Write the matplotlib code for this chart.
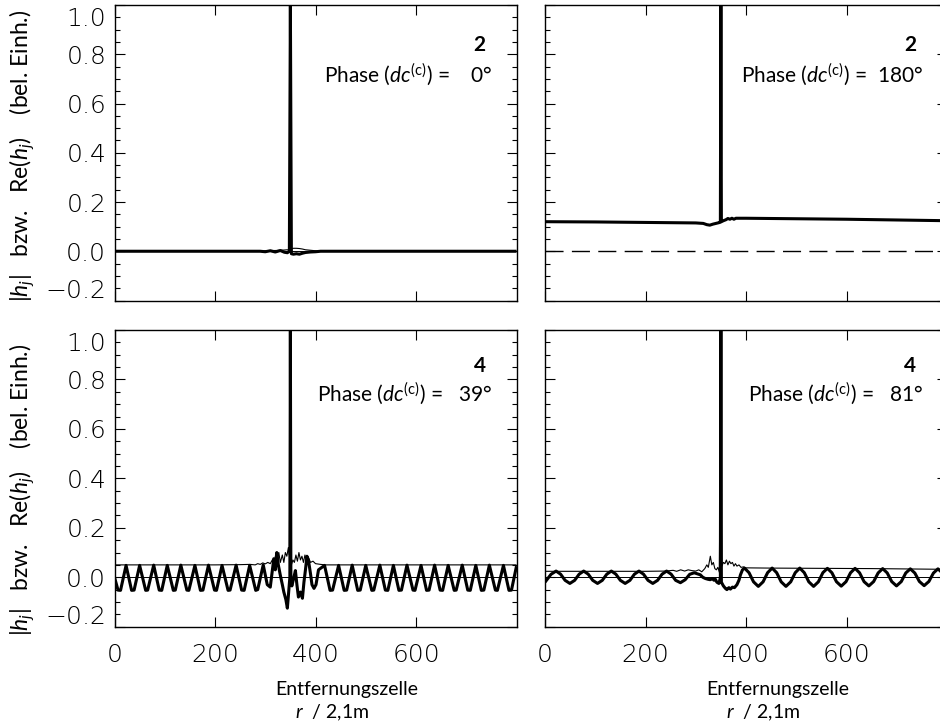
import matplotlib
matplotlib.use('Agg')
import matplotlib.pyplot as plt
from matplotlib.ticker import MultipleLocator
from matplotlib.transforms import ScaledTranslation

plt.rcParams['font.family'] = ['Lato', 'DejaVu Sans']
plt.rcParams['mathtext.fontset'] = 'custom'
plt.rcParams['mathtext.rm'] = 'Lato'
plt.rcParams['mathtext.it'] = 'Lato:italic'
plt.rcParams['mathtext.bf'] = 'Lato:bold'
plt.rcParams['lines.solid_capstyle'] = 'butt'

# Daten
# oben links: 2, Phase 0 Grad
tl_x = [0, 290, 300, 310, 320, 330, 338, 344, 348, 350, 352, 356, 362, 368, 374, 380, 390, 400, 410, 800]
tl_re = [0, 0, -0.002, 0.002, -0.003, 0.003, -0.004, -0.006, 0, 1.0, -0.01, -0.012, -0.01,
         -0.012, -0.008, -0.005, -0.003, -0.002, 0, 0]
tl_abs = [0, 0, 0.002, 0.003, 0.003, 0.004, 0.005, 0.006, 0.004, 1.0, 0.01, 0.012, 0.012,
          0.011, 0.009, 0.006, 0.004, 0.002, 0, 0]

# oben rechts: 2, Phase 180 Grad
tr_x = [0, 100, 200, 300, 315, 322, 328, 334, 340, 346, 349, 350, 351, 355, 360, 364, 368,
        372, 376, 380, 400, 500, 600, 700, 800]
tr_re = [0.120, 0.119, 0.117, 0.115, 0.113, 0.108, 0.106, 0.110, 0.113, 0.116, 0.118, 1.0,
         0.12, 0.124, 0.128, 0.133, 0.130, 0.134, 0.130, 0.134, 0.134, 0.132, 0.130, 0.127, 0.124]

# unten links: 4, Phase 39 Grad
bl_x = [0, 7, 12, 23, 34, 39, 50, 62, 66, 78, 89, 94, 105, 117, 121, 132, 144, 148, 160, 171,
        176, 187, 199, 203, 214, 226, 230, 242, 253, 258, 269, 281, 285, 296,
        304, 310, 317, 320, 323, 326, 330, 334, 337, 341, 344, 347, 349, 350, 351, 353, 357,
        360, 363, 366, 370, 374, 377, 380, 383, 386, 390, 393, 397, 401, 406,
        418, 429, 434, 446, 457, 462, 473, 484, 489, 500, 512, 516, 528, 539, 544, 555, 566,
        571, 582, 594, 598, 610, 621, 626, 637, 648, 653, 664, 676, 680, 692, 703, 708, 719,
        730, 735, 746, 758, 762, 774, 785, 790, 800]
bl_re = [0.0, -0.052, -0.053, 0.048, -0.053, -0.052, 0.048, -0.053, -0.052, 0.049, -0.052,
         -0.053, 0.048, -0.053, -0.052, 0.049, -0.052, -0.053, 0.048, -0.053, -0.052, 0.049,
         -0.052, -0.053, 0.048, -0.053, -0.052, 0.049, -0.052, -0.053, 0.048, -0.053, -0.05, 0.05,
         -0.03, -0.04, 0.075, 0.03, 0.10, 0.05, 0.008, -0.03, -0.06, -0.09, -0.125, -0.05, 0.0,
         1.0, -0.02, -0.035, 0.0, 0.027, -0.03, -0.08, -0.06, -0.085, -0.02, 0.03, 0.085,
         0.068, 0.015, -0.03, -0.045, -0.03, 0.03,
         0.048, -0.053, -0.052, 0.048, -0.053, -0.052, 0.049, -0.053, -0.052, 0.048, -0.053,
         -0.052, 0.049, -0.052, -0.053, 0.048, -0.053, -0.052, 0.049, -0.052, -0.053, 0.048,
         -0.053, -0.052, 0.049, -0.052, -0.053, 0.048, -0.053, -0.052, 0.049, -0.052, -0.053,
         0.048, -0.053, -0.052, 0.049, -0.052, -0.053, 0.048, -0.053, -0.052, 0.045]
bl_abs_x = [0, 100, 200, 250, 270, 280, 285, 290, 295, 300, 305, 310, 314, 318, 321, 324, 327,
            330, 334, 337, 340, 343, 346, 348, 350, 352, 355, 358, 361, 364, 367, 370, 373,
            376, 379, 382, 386, 390, 395, 400, 410, 420, 450, 800]
bl_abs = [0.05, 0.05, 0.05, 0.051, 0.052, 0.05, 0.055, 0.052, 0.058, 0.054, 0.06, 0.055, 0.07,
          0.06, 0.095, 0.07, 0.1, 0.06, 0.09, 0.06, 0.1, 0.085, 0.12, 0.09, 1.0, 0.05, 0.07,
          0.06, 0.09, 0.065, 0.1, 0.07, 0.085, 0.06, 0.09, 0.065, 0.08, 0.06, 0.065, 0.055,
          0.052, 0.05, 0.05, 0.05]

# unten rechts: 4, Phase 81 Grad
br_x = [0, 12, 22, 31, 40, 49.5, 59, 68, 77, 86, 95, 104.5, 114, 123, 132, 141, 150, 159.5,
        169, 178, 187, 196, 205, 214.5, 224, 233, 242, 251, 260, 269.5, 279, 288, 297,
        303, 309, 314, 319, 324, 329, 333, 336, 339, 342, 346, 348, 349, 350, 351, 355, 359,
        362, 366, 369, 373, 377, 382, 386, 389, 393, 397,
        406, 415, 424.5, 434, 443, 452, 461, 470, 479.5, 489, 498, 507, 516, 525, 534.5, 544,
        553, 562, 571, 580, 589.5, 599, 608, 617, 626, 635, 644.5, 654, 663, 672, 681, 690,
        699.5, 709, 718, 727, 736, 745, 754.5, 764, 773, 782, 791, 800]
br_re = [-0.02, 0.012, 0.025, 0.0125, -0.0125, -0.025, -0.0125, 0.0125, 0.025, 0.0125, -0.0125,
         -0.025, -0.0125, 0.0125, 0.025, 0.0125, -0.0125, -0.025, -0.0125, 0.0125, 0.025, 0.0125,
         -0.0125, -0.025, -0.0125, 0.0125, 0.025, 0.0125, -0.0125, -0.022, -0.01, 0.012, 0.018,
         0.014, 0.01, 0.0, -0.005, -0.008, -0.01, -0.005, -0.012, -0.008, -0.02, -0.025, -0.01,
         0.0, 1.0, -0.02, -0.035, -0.045, -0.05, -0.042, -0.048, -0.04, -0.042, -0.03, -0.012,
         0.01, 0.03, 0.037,
         0.0185, -0.0185, -0.037, -0.0185, 0.0185, 0.037, 0.0185, -0.0185, -0.037, -0.0185,
         0.0185, 0.037, 0.0185, -0.0185, -0.037, -0.0185, 0.0185, 0.036, 0.018, -0.018, -0.036,
         -0.018, 0.018, 0.036, 0.018, -0.018, -0.035, -0.0175, 0.0175, 0.035, 0.0175, -0.0175,
         -0.035, -0.0175, 0.0175, 0.034, 0.017, -0.017, -0.034, -0.017, 0.017, 0.034, 0.017,
         -0.017]
br_abs_x = [0, 100, 200, 240, 255, 262, 270, 278, 285, 292, 300, 306, 312, 318, 322, 325, 329,
            332, 335, 338, 341, 344, 347, 350, 352, 355, 358, 361, 364, 367, 370, 373, 376,
            379, 382, 386, 390, 395, 400, 450, 550, 650, 750, 800]
br_abs = [0.024, 0.024, 0.024, 0.025, 0.028, 0.024, 0.03, 0.025, 0.03, 0.027, 0.025, 0.03,
          0.022, 0.035, 0.05, 0.04, 0.085, 0.05, 0.06, 0.035, 0.03, 0.04, 0.02, 1.0, 0.045,
          0.06, 0.055, 0.07, 0.05, 0.065, 0.055, 0.06, 0.045, 0.055, 0.045, 0.05, 0.04, 0.042,
          0.038, 0.037, 0.036, 0.035, 0.033, 0.032]

ordnung = ['2', '2', '4', '4']
phasen = ['   0°', ' 180°', '  39°', '  81°']

fig = plt.figure(figsize=(9.4, 7.27), dpi=100)
W = 402 / 940
ax_tl = fig.add_axes([114.5 / 940, 1 - 300.5 / 727, W, 295.5 / 727])
ax_tr = fig.add_axes([545 / 940, 1 - 300.5 / 727, W, 295.5 / 727])
ax_bl = fig.add_axes([114.5 / 940, 1 - 626.7 / 727, W, 296.7 / 727])
ax_br = fig.add_axes([545 / 940, 1 - 626.7 / 727, W, 296.7 / 727])
axes = [ax_tl, ax_tr, ax_bl, ax_br]

ax_tl.plot(tl_x, tl_abs, color='black', lw=0.8)
ax_tl.plot(tl_x, tl_re, color='black', lw=2.2)
ax_tr.plot(tr_x, tr_re, color='black', lw=2.2)
ax_bl.plot(bl_abs_x, bl_abs, color='black', lw=0.8)
ax_bl.plot(bl_x, bl_re, color='black', lw=2.2)
ax_br.plot(br_abs_x, br_abs, color='black', lw=0.8)
ax_br.plot(br_x, br_re, color='black', lw=2.2)

# Nulllinie
for i, ax in enumerate(axes):
    if i == 1:
        ax.axhline(0, color='black', lw=1.0, dashes=(13, 6))
    else:
        ax.axhline(0, color='black', lw=0.7, zorder=1)

for i, ax in enumerate(axes):
    ax.set_xlim(0, 800)
    ax.set_ylim(-0.2, 1.0)
    ax.set_xticks([0, 200, 400, 600])
    ax.set_yticks([-0.2, 0.0, 0.2, 0.4, 0.6, 0.8, 1.0])
    ax.yaxis.set_minor_locator(MultipleLocator(0.05))
    ax.tick_params(which='both', direction='in', top=True, right=True, width=0.8)
    ax.tick_params(which='major', length=7)
    ax.tick_params(which='minor', length=3.5)
    ax.tick_params(axis='y', labelsize=18, pad=6)
    ax.tick_params(axis='x', labelsize=18, pad=12)
    for s in ax.spines.values():
        s.set_linewidth(1.0)
    if i < 2:
        ax.set_xticklabels([])
    if i % 2 == 1:
        ax.set_yticklabels([])
    else:
        ticks = ax.yaxis.get_major_ticks()
        lab = ticks[0].label1
        lab.set_transform(lab.get_transform() + ScaledTranslation(0, 9 / 72, fig.dpi_scale_trans))
        lab = ticks[-1].label1
        lab.set_transform(lab.get_transform() + ScaledTranslation(0, -8 / 72, fig.dpi_scale_trans))
    for lab in ax.get_xticklabels() + ax.get_yticklabels():
        lab.set_fontfamily('DejaVu Sans')
        lab.set_fontweight('light')

    yb = [0.845, 0.845, 0.858, 0.858][i]
    yp = [0.737, 0.737, 0.758, 0.758][i]
    ax.text(0.908, yb, ordnung[i], transform=ax.transAxes, ha='center', va='baseline',
            fontsize=15, fontweight='bold')
    ax.text(0.94, yp, r'Phase ($dc^{(\mathrm{c})}$) = ' + phasen[i], transform=ax.transAxes,
            ha='right', va='baseline', fontsize=15)

for ax in [ax_bl, ax_br]:
    ax.text(0.578, -0.21, 'Entfernungszelle', transform=ax.transAxes, ha='center',
            va='center', fontsize=14)
    ax.text(0.542, -0.291, r'$r$  / 2,1m', transform=ax.transAxes, ha='center',
            va='center', fontsize=14)

ylab = r'$|h_j|$   bzw.   Re($h_j$)    (bel. Einh.)'
fig.text(22 / 940, 1 - 156 / 727, ylab, rotation=90, ha='center', va='center', fontsize=16.5)
fig.text(22 / 940, 1 - 490 / 727, ylab, rotation=90, ha='center', va='center', fontsize=16.5)

fig.savefig('out.png', dpi=100)
